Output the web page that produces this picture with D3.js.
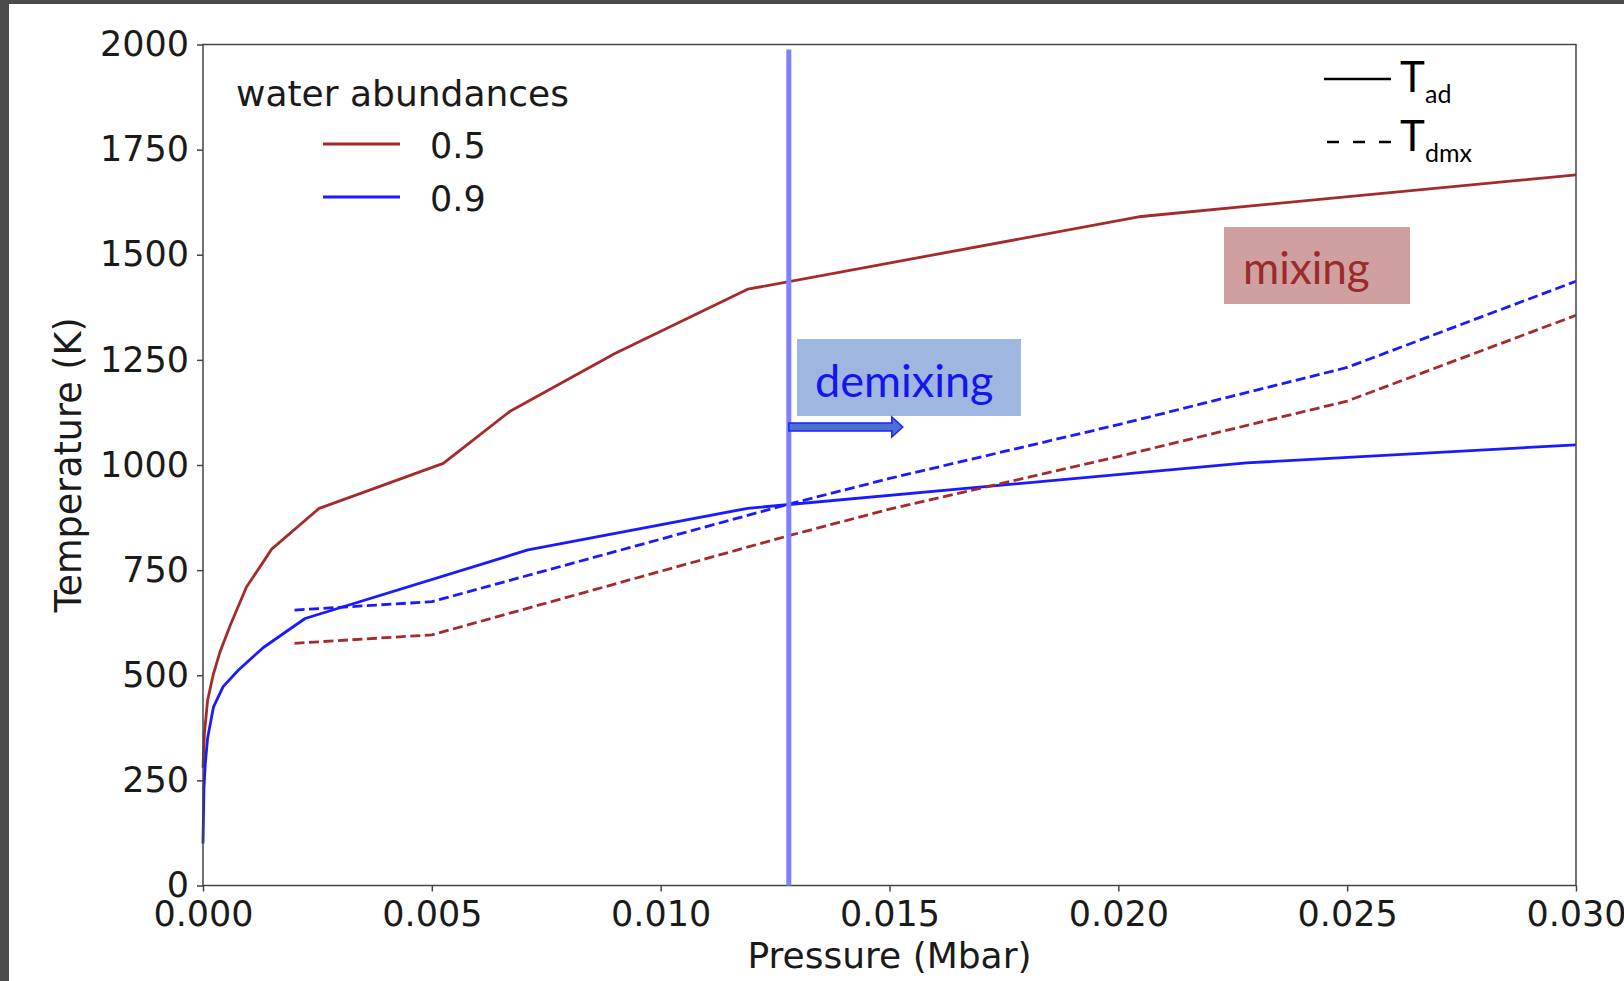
<!DOCTYPE html>
<html>
<head>
<meta charset="utf-8">
<script src="https://cdn.jsdelivr.net/npm/d3@7"></script>
<style>
  body { margin: 0; background: #fff; }
  svg { display: block; }
</style>
</head>
<body>
<div id="chart"></div>
<script>
// pressure (Mbar) / temperature (K)
var adP05 = [0, 0.00003, 0.0001, 0.00022, 0.00037, 0.0006, 0.00095, 0.00135, 0.0015, 0.00254, 0.00525, 0.0067, 0.009, 0.0119, 0.0205, 0.030];
var adT05 = [280, 360, 440, 500, 555, 620, 710, 775, 800, 897, 1004, 1127, 1265, 1418, 1591, 1690];

var adP09 = [0, 0.00002, 0.00005, 0.0001, 0.00023, 0.00044, 0.00077, 0.00132, 0.00223, 0.0071, 0.0119, 0.0228, 0.030];
var adT09 = [100, 230, 290, 350, 425, 473, 512, 566, 635, 798, 897, 1005, 1048];

var dmxP = [0.002, 0.005, 0.0128, 0.015, 0.020, 0.025, 0.030];
var dmxT05 = [576, 596, 832, 895, 1020, 1152, 1356];
var dmxT09 = [655, 675, 907, 968, 1096, 1232, 1437];

var abundances = ["0.5", "0.9"];
var colors = ["#a52a2a", "#1a1aff"];
var xTicks = [0, 0.005, 0.010, 0.015, 0.020, 0.025, 0.030];
var yTicks = [0, 250, 500, 750, 1000, 1250, 1500, 1750, 2000];
var vLineP = 0.0128;

var W = 1624, H = 981;
var margin = {top: 44.5, right: 48, bottom: 95.5, left: 203},
    width = W - margin.left - margin.right,
    height = H - margin.top - margin.bottom;

var x = d3.scaleLinear().domain([0, 0.030]).range([0, width]);
var y = d3.scaleLinear().domain([0, 2000]).range([height, 0]);

var svgRoot = d3.select("#chart").append("svg")
    .attr("width", W)
    .attr("height", H);

// dark strip of the screenshot frame
svgRoot.append("rect").attr("x", 0).attr("y", 0).attr("width", 9).attr("height", H).attr("fill", "#4b4b4b");
svgRoot.append("rect").attr("x", 0).attr("y", 0).attr("width", W).attr("height", 4).attr("fill", "#4b4b4b");

var svg = svgRoot.append("g")
    .attr("transform", "translate(" + margin.left + "," + margin.top + ")");

var mplFont = "'DejaVu Sans', sans-serif";
var pptFont = "Lato, 'Open Sans', sans-serif";

// axes
var gx = svg.append("g")
    .attr("transform", "translate(0," + height + ")")
    .call(d3.axisBottom(x).tickValues(xTicks).tickFormat(d3.format(".3f")).tickSize(6).tickPadding(10));
var gy = svg.append("g")
    .call(d3.axisLeft(y).tickValues(yTicks).tickFormat(d3.format("d")).tickSize(6).tickPadding(8));

[gx, gy].forEach(function(g) {
  g.select(".domain").remove();
  g.selectAll(".tick line").attr("stroke", "#444").attr("stroke-width", 1.5);
  g.selectAll(".tick text")
    .attr("fill", "#1a1a1a")
    .style("font-family", mplFont)
    .style("font-size", "35px");
});

var line = d3.line()
    .x(function(d) { return x(d[0]); })
    .y(function(d) { return y(d[1]); });

function pairs(ps, ts) { return ps.map(function(p, i) { return [p, ts[i]]; }); }

var series = [
  {pts: pairs(adP05, adT05), color: colors[0], dash: null},
  {pts: pairs(adP09, adT09), color: colors[1], dash: null},
  {pts: pairs(dmxP, dmxT09), color: colors[1], dash: "10,4.5"},
  {pts: pairs(dmxP, dmxT05), color: colors[0], dash: "10,4.5"}
];

svg.selectAll(".series")
    .data(series)
    .enter().append("path")
    .attr("class", "series")
    .attr("d", function(d) { return line(d.pts); })
    .attr("fill", "none")
    .attr("stroke", function(d) { return d.color; })
    .attr("stroke-width", 2.8)
    .attr("stroke-linejoin", "round")
    .attr("stroke-dasharray", function(d) { return d.dash; });

// frame
svg.append("rect")
    .attr("width", width)
    .attr("height", height)
    .attr("fill", "none")
    .attr("stroke", "#444")
    .attr("stroke-width", 1.5);

// axis labels
svg.append("text")
    .attr("x", width / 2)
    .attr("y", 968 - margin.top)
    .attr("text-anchor", "middle")
    .style("font-family", mplFont)
    .style("font-size", "36px")
    .attr("fill", "#1a1a1a")
    .text("Pressure (Mbar)");

svg.append("text")
    .attr("transform", "translate(" + (81 - margin.left) + "," + (height / 2) + ") rotate(-90)")
    .attr("text-anchor", "middle")
    .style("font-family", mplFont)
    .style("font-size", "36.5px")
    .attr("fill", "#1a1a1a")
    .text("Temperature (K)");

// legend: water abundances
var leg = svgRoot.append("g");
leg.append("text")
    .attr("x", 236).attr("y", 106)
    .style("font-family", mplFont).style("font-size", "36px")
    .attr("fill", "#1a1a1a")
    .text("water abundances");
abundances.forEach(function(a, i) {
  var ly = 144 + i * 53;
  leg.append("line")
      .attr("x1", 323).attr("x2", 400)
      .attr("y1", ly).attr("y2", ly)
      .attr("stroke", colors[i]).attr("stroke-width", 2.8);
  leg.append("text")
      .attr("x", 430).attr("y", ly + 14)
      .style("font-family", mplFont).style("font-size", "35px")
      .attr("fill", "#1a1a1a")
      .text(a);
});

// legend: line styles
var leg2 = svgRoot.append("g");
leg2.append("line")
    .attr("x1", 1324).attr("x2", 1391).attr("y1", 79).attr("y2", 79)
    .attr("stroke", "#000").attr("stroke-width", 2.5);
leg2.append("line")
    .attr("x1", 1327).attr("x2", 1391).attr("y1", 142).attr("y2", 142)
    .attr("stroke", "#000").attr("stroke-width", 2.5)
    .attr("stroke-dasharray", "12,14");
[["ad", 91.5, 102.5], ["dmx", 150.5, 161.5]].forEach(function(r) {
  leg2.append("text")
      .attr("x", 1400).attr("y", r[1])
      .style("font-family", pptFont).style("font-size", "42px")
      .attr("fill", "#000")
      .text("T");
  leg2.append("text")
      .attr("x", 1425).attr("y", r[2])
      .style("font-family", pptFont).style("font-size", "25px")
      .attr("fill", "#000")
      .text(r[0]);
});

// vertical marker
svg.append("line")
    .attr("x1", x(vLineP)).attr("x2", x(vLineP))
    .attr("y1", y(1988)).attr("y2", y(0))
    .attr("stroke", "#8080ff")
    .attr("stroke-width", 5);

// annotation boxes
svgRoot.append("rect")
    .attr("x", 797).attr("y", 339).attr("width", 224).attr("height", 77)
    .attr("fill", "#9fb6e0");
svgRoot.append("text")
    .attr("x", 815).attr("y", 397)
    .style("font-family", pptFont).style("font-size", "45px")
    .attr("fill", "#1414f0")
    .text("demixing");

svgRoot.append("rect")
    .attr("x", 1224).attr("y", 227).attr("width", 186).attr("height", 77)
    .attr("fill", "#d0a0a0");
svgRoot.append("text")
    .attr("x", 1243).attr("y", 284)
    .style("font-family", pptFont).style("font-size", "44px")
    .attr("fill", "#9b2a2a")
    .text("mixing");

// arrow to the right of the marker
var ax0 = margin.left + x(vLineP), ay = 427;
svgRoot.append("path")
    .attr("d", "M" + ax0 + "," + (ay - 4) +
               "H" + (ax0 + 103) + "V" + (ay - 10) +
               "L" + (ax0 + 114) + "," + ay +
               "L" + (ax0 + 103) + "," + (ay + 10) +
               "V" + (ay + 4) + "H" + ax0 + "Z")
    .attr("fill", "#4a70d0")
    .attr("stroke", "#2020ff")
    .attr("stroke-width", 1.5);
</script>
</body>
</html>
